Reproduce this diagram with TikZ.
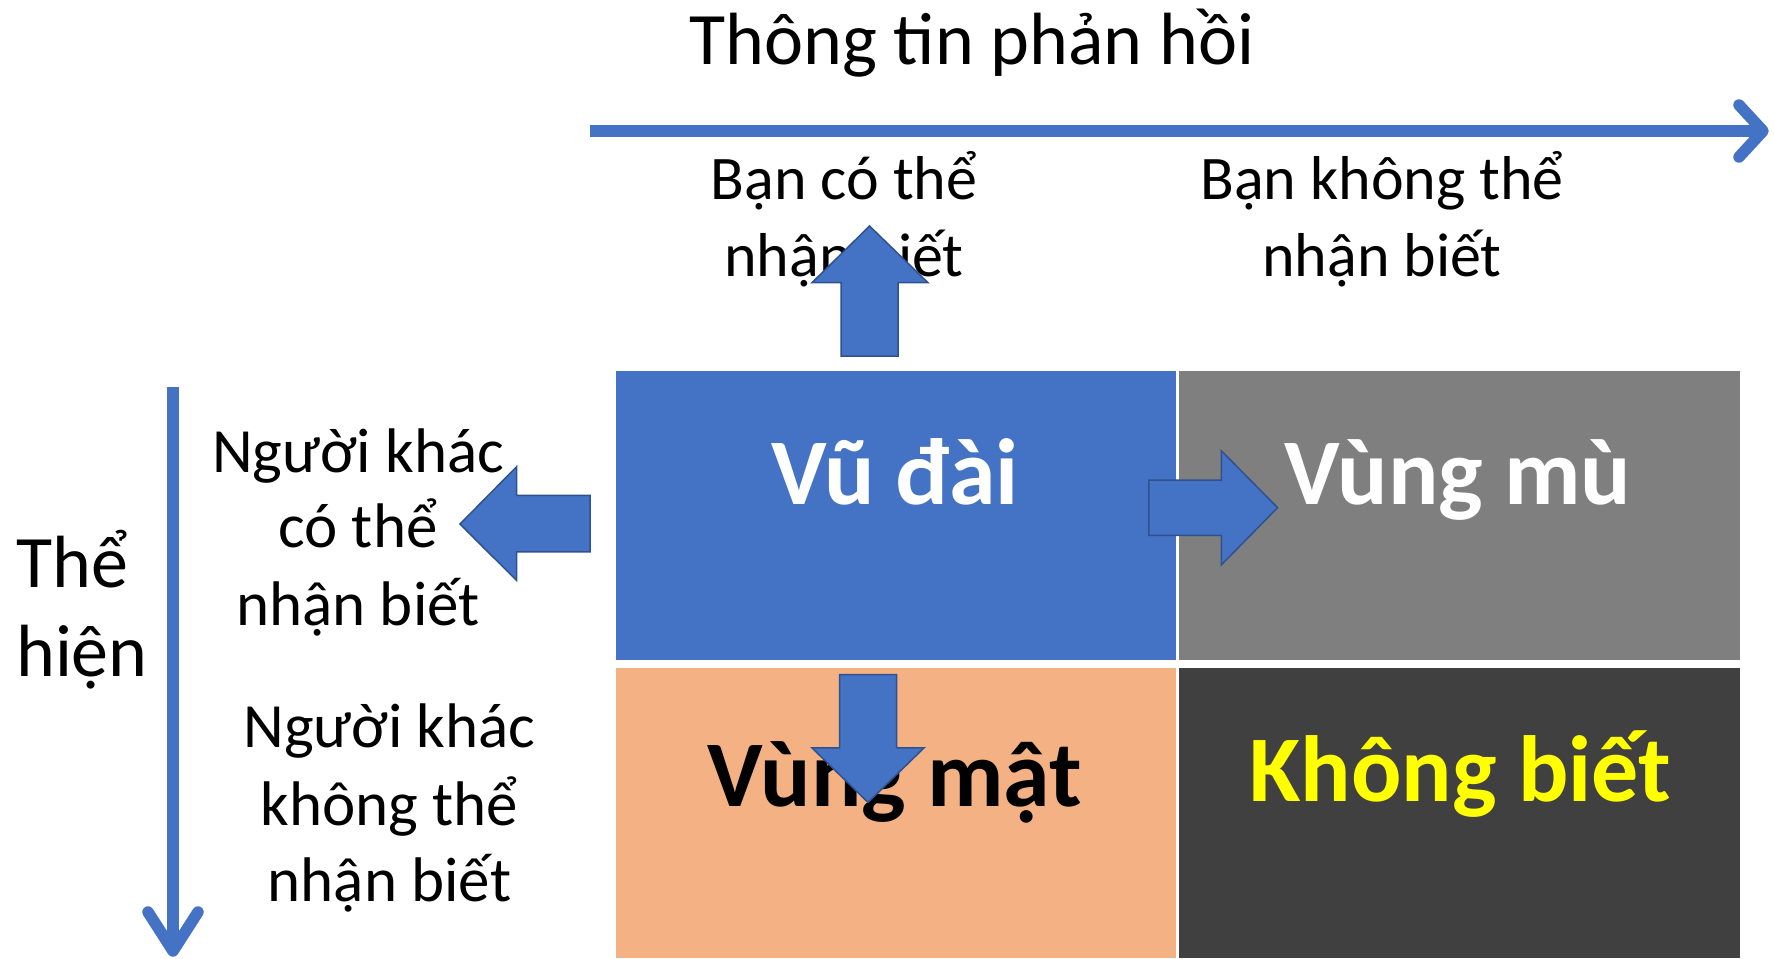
\documentclass[tikz,border=0pt]{standalone}
\usepackage{fontspec}
\setmainfont{Carlito}
\definecolor{accblue}{HTML}{4472C4}
\definecolor{edgeblue}{HTML}{2F528F}
\definecolor{boxgray}{HTML}{7F7F7F}
\definecolor{boxorange}{HTML}{F4B183}
\definecolor{boxdark}{HTML}{404040}
\definecolor{txtyellow}{HTML}{FFFF00}
\tikzset{
  lbl/.style={anchor=base, inner sep=0pt},
  smalltxt/.style={lbl, font=\fontsize{62}{76}\selectfont},
  sidetxt/.style={lbl, font=\fontsize{63}{77}\selectfont},
  bigtxt/.style={lbl, font=\fontsize{94}{114}\selectfont\bfseries},
  axis/.style={draw=accblue, line width=11.5pt},
  barb/.style={draw=accblue, line width=11.5pt, line cap=round, line join=round},
  blockarrow/.style={fill=accblue, draw=edgeblue, line width=1.5pt, line join=miter}
}
\begin{document}
\begin{tikzpicture}[x=1pt,y=-1pt]
\useasboundingbox (0,0) rectangle (1774,958);
% quadrants
\fill[accblue] (615.5,370.5) rectangle (1175.5,660);
\fill[boxgray] (1179,370.5) rectangle (1739.5,660);
\fill[boxorange] (615.5,668) rectangle (1175.5,958);
\fill[boxdark] (1179,668) rectangle (1739.5,958);
% axes
\coordinate (hs) at (589.5,131);
\coordinate (he) at (1763,131);
\draw[axis] (hs) -- (he);
\draw[barb] (1739,105) -- (he) -- (1739,157);
\coordinate (vs) at (173,387);
\coordinate (ve) at (173,951);
\draw[axis] (vs) -- (ve);
\draw[barb] (148,912) -- (ve) -- (198,912);
% texts
\node[lbl, font=\fontsize{74}{90}\selectfont] (title) at (972,65) {Thông tin phản hồi};
\node[smalltxt] (c1a) at (844,199.3) {Bạn có thể};
\node[smalltxt] (c1b) at (844,276) {nhận biết};
\node[smalltxt] (c2a) at (1382,199.3) {Bạn không thể};
\node[smalltxt] (c2b) at (1382,276) {nhận biết};
\node[lbl, anchor=base west, font=\fontsize{74}{90}\selectfont] (r0a) at (16,587) {Thể};
\node[lbl, anchor=base west, font=\fontsize{74}{90}\selectfont] (r0b) at (16,676.6) {hiện};
\node[sidetxt] (r1a) at (358,472.5) {Người khác};
\node[sidetxt] (r1b) at (358,547.6) {có thể};
\node[sidetxt] (r1c) at (358,625) {nhận biết};
\node[sidetxt] (r2a) at (389.5,747) {Người khác};
\node[sidetxt] (r2b) at (389.5,825.3) {không thể};
\node[sidetxt] (r2c) at (389.5,901.6) {nhận biết};
\node[bigtxt, text=white] (q1) at (895,504.2) {Vũ đài};
\node[bigtxt, text=white] (q2) at (1458,504.2) {Vùng mù};
\node[bigtxt, text=black] (q3) at (895,806.2) {Vùng mật};
\node[bigtxt, text=txtyellow] (q4) at (1460,801.3) {Không biết};
% block arrows, drawn over the texts
\draw[blockarrow] (841,356) -- (841,282.7) -- (812,282.7) -- (869.5,226) -- (928,282.7) -- (898,282.7) -- (898,356) -- cycle;
\draw[blockarrow] (1148.8,480) -- (1221.4,480) -- (1221.4,450.8) -- (1277.6,507.7) -- (1221.4,564.8) -- (1221.4,535.4) -- (1148.8,535.4) -- cycle;
\draw[blockarrow] (590,495.4) -- (516.5,495.4) -- (516.5,466.8) -- (460,524) -- (516.5,580.4) -- (516.5,551.8) -- (590,551.8) -- cycle;
\draw[blockarrow] (839.6,674.6) -- (896.5,674.6) -- (896.5,747.9) -- (924,747.9) -- (868,802.4) -- (812,747.9) -- (839.6,747.9) -- cycle;
\end{tikzpicture}
\end{document}
